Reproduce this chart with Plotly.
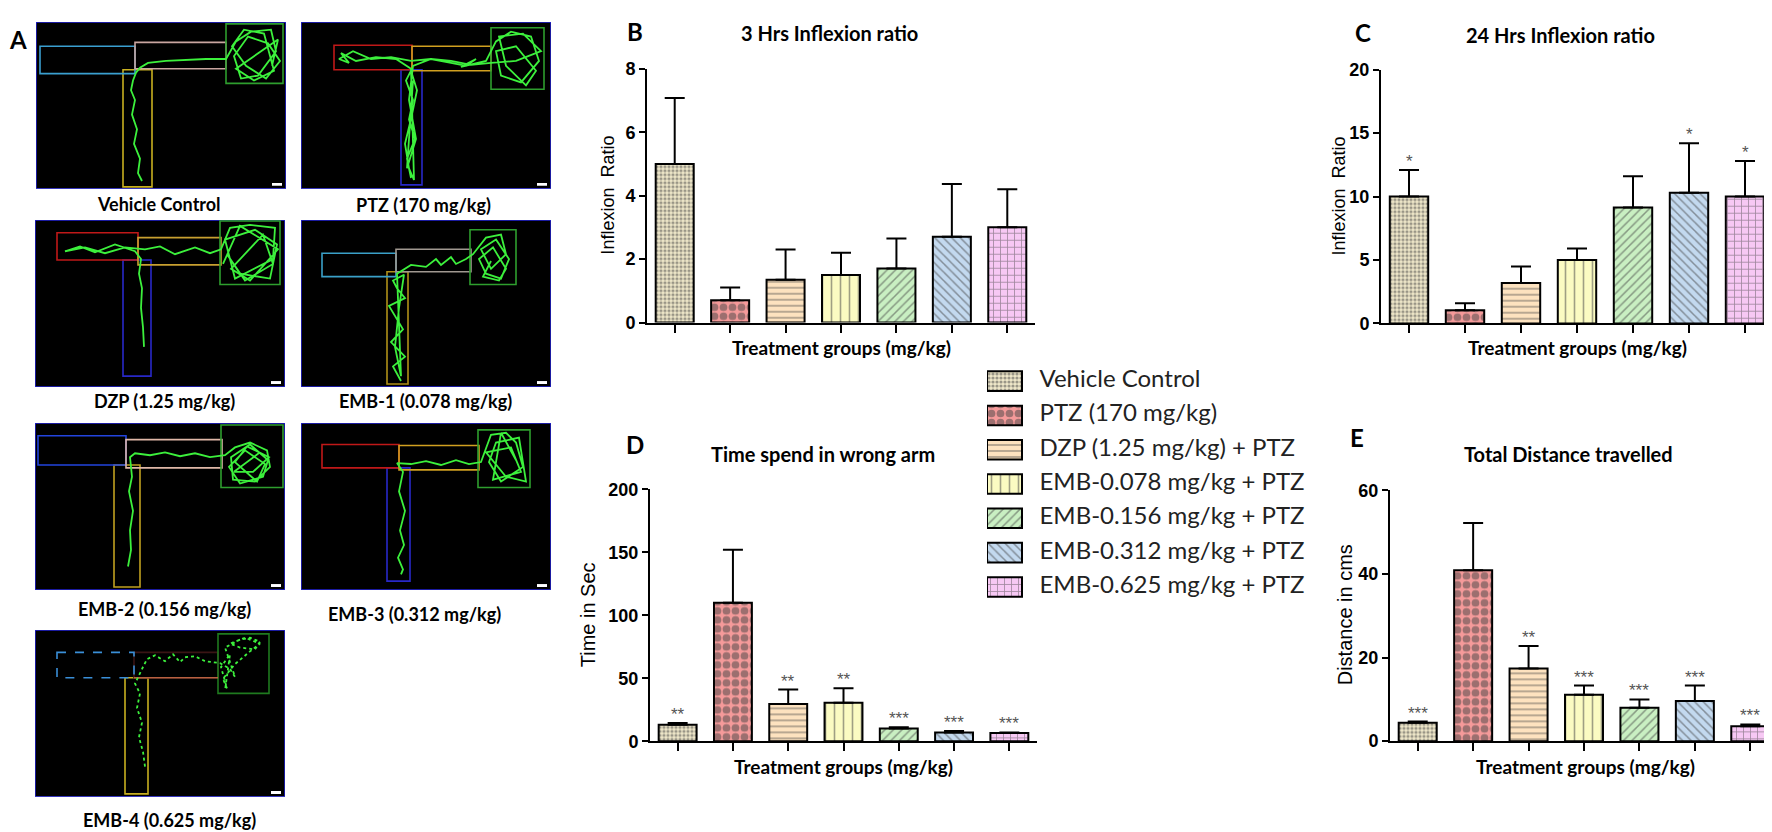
import plotly.graph_objects as go

W, H = 1772, 832

# -- treatment groups (same order in every panel and in the legend)
GROUPS = ["Vehicle Control", "PTZ (170 mg/kg)", "DZP (1.25 mg/kg) + PTZ",
          "EMB-0.078 mg/kg + PTZ", "EMB-0.156 mg/kg + PTZ",
          "EMB-0.312 mg/kg + PTZ", "EMB-0.625 mg/kg + PTZ"]

# -- B: 3 hrs inflexion ratio
B_MEAN = [5.0, 0.7, 1.35, 1.5, 1.7, 2.7, 3.0]
B_SEM = [2.08, 0.4, 0.95, 0.7, 0.95, 1.67, 1.2]
# -- C: 24 hrs inflexion ratio
C_MEAN = [10.0, 1.05, 3.2, 5.0, 9.15, 10.3, 10.0]
C_SEM = [2.1, 0.55, 1.3, 0.9, 2.45, 3.9, 2.8]
C_STARS = ["*", "", "", "", "", "*", "*"]
# -- D: time spent in wrong arm
D_MEAN = [13, 110, 29.5, 30.5, 10, 7, 6.5]
D_SEM = [1.5, 42, 11.5, 11.5, 1.0, 1.0, 0.5]
D_STARS = ["**", "", "**", "**", "***", "***", "***"]
# -- E: total distance travelled
E_MEAN = [4.4, 40.9, 17.4, 11.1, 8.0, 9.6, 3.6]
E_SEM = [0.3, 11.3, 5.4, 2.2, 2.0, 3.7, 0.4]
E_STARS = ["***", "", "**", "***", "***", "***", "***"]

# -- bar fills / hatching
FILLS = ["#efe7c9", "#f59a9a", "#fde2bf", "#fbfbc2", "#c9efc2", "#c3d9ef", "#f7c8f4"]
SHAPES = [".", ".", "-", "|", "/", "\\", "+"]
PAT_SIZE = [4, 9, 6, 9, 6, 6, 7]
PAT_SOLID = [0.5, 0.58, 0.25, 0.18, 0.25, 0.25, 0.22]

# -- A: track images (image pixel coords, 250 x 171)
IMG_LABELS = ["Vehicle Control", "PTZ (170 mg/kg)", "DZP (1.25 mg/kg)", "EMB-1 (0.078 mg/kg)",
              "EMB-2 (0.156 mg/kg)", "EMB-3 (0.312 mg/kg)", "EMB-4 (0.625 mg/kg)"]
VC_X = [106, 102, 104, 98, 101, 96, 99, 95, 97, 100, 104, 112, 130, 150, 170, 190, 200, 215, 235, 240,
        222, 205, 198, 212, 232, 244, 230, 210, 196, 208, 228, 238, 218, 200, 225, 242, 236]
VC_Y = [163, 155, 140, 125, 110, 95, 80, 70, 60, 52, 47, 42, 40, 39, 38, 38, 20, 10, 8, 30,
        55, 58, 35, 15, 22, 40, 58, 45, 25, 8, 12, 50, 60, 48, 30, 18, 45]
PTZ_X = [110, 106, 114, 108, 112, 105, 110, 116, 111, 104, 108, 113, 110, 95, 75, 55, 40, 48, 38, 52,
         70, 90, 110, 130, 150, 165, 175, 160, 185, 195, 210, 230, 238, 220, 200, 195, 215, 235, 225, 205,
         198, 222, 240, 215, 190, 170, 150, 130, 112, 108, 115, 106, 112]
PTZ_Y = [160, 140, 120, 100, 80, 60, 50, 70, 95, 125, 150, 162, 48, 38, 36, 40, 32, 42, 38, 30,
         38, 36, 40, 38, 42, 45, 38, 46, 40, 20, 10, 15, 40, 62, 55, 30, 25, 50, 65, 45,
         15, 12, 30, 40, 42, 44, 40, 38, 45, 80, 120, 150, 60]
DZP_X = [109, 108, 106, 107, 104, 106, 100, 80, 60, 45, 30, 50, 70, 90, 110, 125, 140, 160, 175, 186,
         195, 215, 240, 238, 200, 190, 220, 242, 235, 205, 192, 210, 238, 228, 196, 215, 243, 205, 188]
DZP_Y = [130, 110, 90, 70, 55, 40, 32, 25, 33, 27, 32, 28, 34, 28, 30, 27, 35, 28, 34, 30,
         8, 5, 8, 40, 60, 20, 10, 25, 60, 55, 35, 62, 45, 15, 50, 62, 30, 6, 45]
E1_X = [100, 92, 104, 90, 102, 95, 88, 104, 96, 92, 103, 98, 94, 100, 96, 110, 125, 135, 140, 150,
        155, 165, 172, 185, 200, 205, 190, 180, 195, 208, 200, 185, 178, 192, 205, 198, 182, 190]
E1_Y = [165, 150, 140, 125, 112, 100, 88, 80, 70, 62, 56, 90, 130, 160, 55, 46, 48, 40, 46, 38,
        45, 40, 35, 18, 15, 35, 50, 30, 20, 40, 60, 55, 40, 28, 50, 62, 58, 42]
E2_X = [93, 96, 95, 98, 94, 97, 95, 100, 115, 130, 145, 160, 175, 190, 200, 215, 232, 235, 220, 198,
        196, 215, 233, 228, 205, 194, 210, 230, 222, 200, 212, 234, 218, 199, 225]
E2_Y = [147, 130, 110, 90, 70, 55, 35, 31, 33, 30, 34, 31, 35, 33, 25, 20, 28, 45, 60, 58,
        35, 22, 38, 55, 62, 45, 28, 42, 60, 40, 24, 35, 50, 50, 30]
E3_X = [100, 102, 97, 103, 99, 104, 98, 102, 96, 110, 125, 140, 155, 168, 180, 190, 205, 215, 222, 200,
        188, 195, 218, 225, 205, 185, 210, 220, 192, 200, 215]
E3_Y = [155, 150, 138, 125, 110, 90, 70, 50, 41, 42, 39, 43, 38, 42, 40, 12, 10, 20, 45, 60,
        40, 20, 15, 60, 55, 30, 25, 50, 58, 10, 38]
E4_X = [110, 108, 104, 107, 102, 105, 100, 103, 108, 112, 120, 130, 138, 145, 150, 160, 170, 185, 195, 200,
        190, 205, 215, 225, 220, 205, 195, 210, 225, 215, 200, 188, 192, 186, 195, 190]
E4_Y = [140, 125, 110, 95, 80, 65, 55, 48, 38, 30, 26, 32, 25, 33, 28, 27, 32, 34, 40, 48,
        18, 10, 8, 12, 20, 18, 14, 8, 14, 22, 35, 50, 60, 38, 25, 62]

TXT = "Lato, Carlito, Calibri, sans-serif"
NUM = "Liberation Sans, Arial, sans-serif"


def px(x):
    return x / W


def py(y):
    return 1 - y / H


fig = go.Figure()
annotations = []
shapes = []
layout = {}

marker = dict(color=FILLS, line=dict(color="black", width=2),
              pattern=dict(fillmode="overlay", shape=SHAPES, fgcolor="black",
                           size=PAT_SIZE, solidity=PAT_SOLID))

panels = [
    dict(mean=B_MEAN, sem=B_SEM, stars=None, xd=(639, 1027), yd=(52, 312), ymax=8, dtick=2,
         title="3 Hrs Inflexion ratio", tpos=(821, 15), ytitle="Inflexion  Ratio", ypos=(600, 182), yts=18,
         xtpos=(833, 338), letter="B", lpos=(627, 14)),
    dict(mean=C_MEAN, sem=C_SEM, stars=C_STARS, xd=(1373, 1765), yd=(53, 313), ymax=20, dtick=5,
         title="24 Hrs Inflexion ratio", tpos=(1552, 17), ytitle="Inflexion  Ratio", ypos=(1331, 183), yts=18,
         xtpos=(1569, 338), letter="C", lpos=(1355, 15)),
    dict(mean=D_MEAN, sem=D_SEM, stars=D_STARS, xd=(642, 1029), yd=(483, 741), ymax=200, dtick=50,
         title="Time spend in wrong arm", tpos=(815, 447), ytitle="Time in Sec", ypos=(580, 612), yts=20,
         xtpos=(835, 767), letter="D", lpos=(627, 437)),
    dict(mean=E_MEAN, sem=E_SEM, stars=E_STARS, xd=(1382, 1770), yd=(484, 741), ymax=60, dtick=20,
         title="Total Distance travelled", tpos=(1560, 447), ytitle="Distance in cms", ypos=(1337, 612), yts=20,
         xtpos=(1577, 767), letter="E", lpos=(1349, 430)),
]

for i, p in enumerate(panels):
    n = i + 1
    sfx = "" if n == 1 else str(n)
    fig.add_trace(go.Bar(x=GROUPS, y=p["mean"], width=0.686, marker=marker,
                         error_y=dict(type="data", symmetric=False, array=p["sem"],
                                      arrayminus=[0] * 7, color="black", thickness=2, width=10),
                         xaxis="x" + sfx, yaxis="y" + sfx, hoverinfo="skip"))
    layout["xaxis" + sfx] = dict(domain=[px(p["xd"][0]), px(p["xd"][1])], anchor="y" + sfx,
                                 type="category", range=[-0.5, 6.5], showticklabels=False,
                                 showline=True, linecolor="black", linewidth=2, ticks="outside",
                                 ticklen=8, tickwidth=2, tickcolor="black", showgrid=False, zeroline=False)
    layout["yaxis" + sfx] = dict(domain=[py(p["yd"][1]), py(p["yd"][0])], anchor="x" + sfx,
                                 range=[0, p["ymax"]], dtick=p["dtick"], showline=True, linecolor="black",
                                 linewidth=2, ticks="outside", ticklen=6, tickwidth=2, tickcolor="black",
                                 showgrid=False, zeroline=False,
                                 tickfont=dict(family=NUM, size=18, color="black", weight="bold"))
    if p["stars"]:
        for g, m, s, st in zip(GROUPS, p["mean"], p["sem"], p["stars"]):
            if st:
                annotations.append(dict(x=g, y=m + s, xref="x" + sfx, yref="y" + sfx, text=st,
                                        yanchor="bottom", yshift=-3,
                                        font=dict(family=NUM, size=17, color="#555")))
    annotations += [
        dict(x=px(p["tpos"][0]), y=py(p["tpos"][1]), text=p["title"],
             font=dict(family=TXT, size=20, color="black", weight="bold")),
        dict(x=px(p["ypos"][0]), y=py(p["ypos"][1]), text=p["ytitle"], textangle=-90,
             font=dict(family=NUM, size=p["yts"], color="black")),
        dict(x=px(p["xtpos"][0]), y=py(p["xtpos"][1]), text="Treatment groups (mg/kg)",
             font=dict(family=TXT, size=19, color="black", weight="bold")),
        dict(x=px(p["lpos"][0]), y=py(p["lpos"][1]), text=p["letter"],
             font=dict(family=TXT, size=24, color="black", weight="bold")),
    ]

# -- legend drawn as a small horizontal bar chart
fig.add_trace(go.Bar(y=GROUPS, x=[1] * 7, orientation="h", width=0.57, marker=marker,
                     xaxis="x5", yaxis="y5", hoverinfo="skip"))
fig.add_trace(go.Scatter(y=GROUPS, x=[1.5] * 7, mode="text", text=GROUPS, textposition="middle right",
                         textfont=dict(family=TXT, size=24, color="#222"),
                         xaxis="x5", yaxis="y5", hoverinfo="skip"))
layout["xaxis5"] = dict(domain=[px(979), px(1320)], anchor="y5", range=[0, 341 / 35], visible=False)
layout["yaxis5"] = dict(domain=[py(600.5), py(354.5)], anchor="x5", type="category",
                        autorange="reversed", visible=False)

# -- A: maze track images
IMAGES = [
    dict(left=28, top=4, lab=(151, 191), tx=VC_X, ty=VC_Y,
         arms=[(87, 116, 49, 169, "#c8b020"), (4, 99, 25, 53, "#3a9fd0"),
               (99, 190, 21, 48, "#c9a5a0"), (190, 247, 2, 63, "#2e9e2e")]),
    dict(left=293, top=4, lab=(415, 192), tx=PTZ_X, ty=PTZ_Y,
         arms=[(100, 121, 49, 167, "#2828c8"), (33, 111, 24, 49, "#c01818"),
               (111, 190, 25, 50, "#d0a020"), (190, 243, 6, 69, "#2e9e2e")]),
    dict(left=27, top=207, lab=(156, 392), tx=DZP_X, ty=DZP_Y,
         arms=[(88, 116, 41, 160, "#2828c8"), (22, 103, 13, 41, "#c01818"),
               (103, 186, 18, 46, "#c8a030"), (185, 245, 1, 66, "#2e9e2e")]),
    dict(left=293, top=207, lab=(417, 392), tx=E1_X, ty=E1_Y,
         arms=[(86, 107, 53, 168, "#b09018"), (21, 95, 34, 58, "#3aa0c8"),
               (95, 170, 30, 53, "#a09890"), (169, 215, 10, 66, "#2e9e2e")]),
    dict(left=27, top=415, lab=(156, 606), tx=E2_X, ty=E2_Y,
         arms=[(79, 105, 43, 168, "#c0a020"), (3, 91, 13, 43, "#2244dd"),
               (91, 187, 17, 46, "#e0b8a8"), (186, 248, 2, 66, "#2e9e2e")]),
    dict(left=293, top=415, lab=(406, 611), tx=E3_X, ty=E3_Y,
         arms=[(86, 109, 46, 162, "#2828c8"), (21, 98, 22, 46, "#c01818"),
               (98, 178, 23, 48, "#d0a020"), (177, 229, 7, 66, "#2e9e2e")]),
    dict(left=27, top=627, lab=(161, 822), tx=E4_X, ty=E4_Y,
         arms=[(90, 113, 49, 168, "#c8b020"), (99, 183, 23, 49, "#3a1414"),
               (22, 99, 23, 49, "#3a8fd8"), (183, 234, 4, 65, "#1f7a1f")]),
]

for k, (img, lab) in enumerate(zip(IMAGES, IMG_LABELS)):
    n = 6 + k
    xr, yr = "x%d" % n, "y%d" % n
    layout["xaxis%d" % n] = dict(domain=[px(img["left"]), px(img["left"] + 250)], anchor=yr,
                                 range=[0, 250], visible=False)
    layout["yaxis%d" % n] = dict(domain=[py(img["top"] + 171), py(img["top"])], anchor=xr,
                                 range=[171, 0], visible=False)
    shapes.append(dict(type="rect", xref=xr, yref=yr, x0=0, x1=250, y0=0, y1=171, layer="below",
                       fillcolor="black", line=dict(color="#2323d6", width=1.5)))
    for j, (x0, x1, y0, y1, c) in enumerate(img["arms"]):
        dash = "dash" if (k == 6 and j == 2) else "solid"
        shapes.append(dict(type="rect", xref=xr, yref=yr, x0=x0, x1=x1, y0=y0, y1=y1, layer="below",
                           line=dict(color=c, width=1.6, dash=dash)))
    if k == 6:
        shapes.append(dict(type="line", xref=xr, yref=yr, x0=99, x1=183, y0=49, y1=49, layer="below",
                           line=dict(color="#b86040", width=1.6)))
    shapes.append(dict(type="rect", xref=xr, yref=yr, x0=236, x1=246, y0=165, y1=168, layer="below",
                       fillcolor="white", line=dict(width=0)))
    fig.add_trace(go.Scatter(x=img["tx"], y=img["ty"], mode="lines", xaxis=xr, yaxis=yr,
                             line=dict(color="#3cf03c", width=1.8, dash="dot" if k == 6 else "solid"),
                             hoverinfo="skip"))
    annotations.append(dict(x=px(img["lab"][0]), y=py(img["lab"][1]), text=lab,
                            font=dict(family=TXT, size=18, color="black", weight="bold")))

annotations.append(dict(x=px(10), y=py(22), text="A",
                        font=dict(family=TXT, size=24, color="black", weight="bold")))

for a in annotations:
    a.setdefault("xref", "paper")
    a.setdefault("yref", "paper")
    a.setdefault("xanchor", "center")
    a.setdefault("yanchor", "middle")
    a.setdefault("showarrow", False)

fig.update_layout(width=W, height=H, autosize=False, margin=dict(l=0, r=0, t=0, b=0),
                  paper_bgcolor="white", plot_bgcolor="white", showlegend=False,
                  annotations=annotations, shapes=shapes, **layout)

fig.write_html("out.html")
